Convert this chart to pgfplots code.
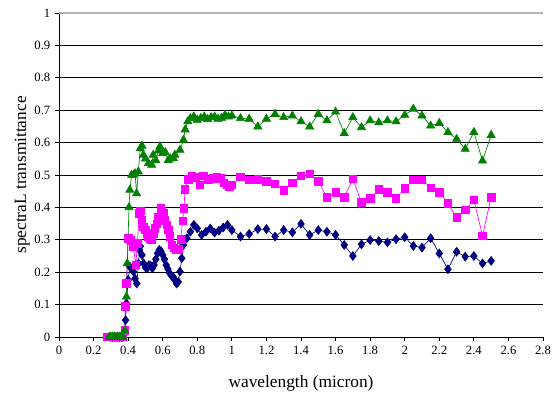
\documentclass[border=0pt]{standalone}
\usepackage{pgfplots}
\pgfplotsset{compat=1.18}
\usepackage{fontspec}
\setmainfont{Liberation Serif}
\definecolor{navy}{RGB}{0,0,128}
\definecolor{mag}{RGB}{255,0,255}
\definecolor{grn}{RGB}{0,128,0}
\begin{document}
\begin{tikzpicture}
\begin{axis}[
  name=ax,
  scale only axis, width=363pt, height=243pt,
  xmin=0, xmax=2.8, ymin=0, ymax=1,
  xtick={0,0.2,...,2.8}, ytick={0,0.1,...,1},
  xticklabels={0,0.2,0.4,0.6,0.8,1,1.2,1.4,1.6,1.8,2,2.2,2.4,2.6,2.8},
  yticklabels={0,0.1,0.2,0.3,0.4,0.5,0.6,0.7,0.8,0.9,1},
  axis x line*=bottom, axis y line*=left,
  axis line style={black, line width=0.6pt},
  tick align=outside, major tick length=3pt,
  tick style={black, line width=0.6pt},
  ymajorgrids, major grid style={black, line width=0.5pt},
  tick label style={font=\fontsize{9.5}{11}\selectfont},
  /pgf/number format/assume math mode=true,
  xlabel={wavelength (micron)}, ylabel={spectraL transmittance},
  label style={font=\fontsize{13}{15}\selectfont},
  xlabel style={at={(axis description cs:0.5,-0.142)}, anchor=center},
  ylabel style={at={(axis description cs:-0.0758,0.5)}, anchor=center},
  clip=false,
]
\draw[gray!60, line width=0.8pt] (axis cs:0,1) -- (axis cs:2.8,1);
% navy diamonds
\addplot[navy, line width=0.5pt, mark=diamond*, mark size=3.3pt, mark options={solid, fill=navy, draw=navy}] coordinates {
(0.30,0)(0.31,0)(0.32,0)(0.33,0)(0.34,0)(0.35,0)(0.36,0)(0.37,0)(0.38,0.01)
(0.385,0.052)(0.39,0.104)(0.40,0.176)(0.41,0.217)(0.42,0.21)(0.43,0.202)(0.44,0.18)
(0.45,0.165)(0.46,0.227)(0.465,0.269)(0.47,0.28)(0.48,0.253)(0.49,0.227)(0.50,0.215)
(0.51,0.212)(0.52,0.222)(0.53,0.22)(0.54,0.212)(0.55,0.222)(0.56,0.24)(0.57,0.258)
(0.58,0.269)(0.59,0.265)(0.60,0.253)(0.61,0.24)(0.62,0.222)(0.63,0.21)(0.64,0.197)
(0.65,0.19)(0.66,0.186)(0.67,0.176)(0.68,0.165)(0.69,0.17)(0.70,0.202)(0.71,0.243)
(0.72,0.284)(0.74,0.305)(0.76,0.325)(0.78,0.346)(0.80,0.335)(0.825,0.315)(0.85,0.325)
(0.875,0.335)(0.90,0.322)(0.925,0.328)(0.95,0.338)(0.975,0.346)(1.00,0.330)
(1.05,0.310)(1.10,0.318)(1.15,0.333)(1.20,0.333)(1.25,0.310)(1.30,0.330)(1.35,0.323)
(1.40,0.349)(1.45,0.315)(1.50,0.330)(1.55,0.325)(1.60,0.315)(1.65,0.284)(1.70,0.250)
(1.75,0.286)(1.80,0.299)(1.85,0.296)(1.90,0.292)(1.95,0.302)(2.00,0.308)(2.05,0.281)
(2.10,0.276)(2.15,0.305)(2.20,0.258)(2.25,0.209)(2.30,0.263)(2.35,0.248)(2.40,0.250)
(2.45,0.227)(2.50,0.235)
};
% magenta squares
\addplot[mag, line width=0.5pt, mark=square*, mark size=2.8pt, mark options={solid, fill=mag, draw=mag}] coordinates {
(0.28,0)(0.30,0)(0.31,0)(0.32,0)(0.33,0)(0.34,0)(0.35,0)(0.36,0)(0.37,0)(0.38,0.02)
(0.385,0.094)(0.39,0.165)(0.40,0.305)(0.41,0.30)(0.415,0.299)(0.43,0.279)(0.445,0.222)
(0.453,0.289)(0.465,0.382)(0.47,0.39)(0.478,0.361)(0.488,0.340)(0.50,0.33)(0.507,0.320)
(0.515,0.31)(0.526,0.305)(0.535,0.30)(0.545,0.320)(0.555,0.336)(0.565,0.35)(0.574,0.371)
(0.588,0.397)(0.595,0.39)(0.603,0.382)(0.613,0.36)(0.623,0.346)(0.633,0.33)(0.642,0.310)
(0.652,0.284)(0.665,0.275)(0.677,0.269)(0.69,0.27)(0.704,0.302)(0.715,0.358)(0.723,0.397)
(0.729,0.456)(0.748,0.487)(0.767,0.497)(0.792,0.493)(0.815,0.469)(0.835,0.497)(0.864,0.485)
(0.889,0.489)(0.912,0.493)(0.935,0.489)(0.954,0.476)(0.97,0.47)(0.985,0.464)(1.00,0.47)
(1.05,0.495)(1.10,0.485)(1.15,0.487)(1.20,0.481)(1.25,0.472)(1.30,0.452)(1.35,0.476)
(1.40,0.497)(1.45,0.503)(1.50,0.480)(1.55,0.431)(1.60,0.447)(1.65,0.431)(1.70,0.488)
(1.75,0.415)(1.80,0.428)(1.85,0.456)(1.90,0.447)(1.95,0.428)(2.00,0.459)(2.05,0.485)
(2.10,0.485)(2.15,0.461)(2.20,0.446)(2.25,0.412)(2.30,0.369)(2.35,0.392)(2.40,0.423)
(2.45,0.313)(2.50,0.431)
};
% green triangles
\addplot[grn, line width=0.5pt, mark=triangle*, mark size=3.5pt, mark options={solid, fill=grn, draw=grn}] coordinates {
(0.29,0)(0.30,0)(0.31,0)(0.32,0)(0.33,0)(0.34,0)(0.35,0)(0.36,0)(0.37,0)(0.38,0.02)
(0.39,0.124)(0.395,0.227)(0.405,0.40)(0.41,0.454)(0.42,0.500)(0.43,0.50)(0.44,0.505)
(0.449,0.443)(0.459,0.510)(0.47,0.582)(0.48,0.59)(0.488,0.562)(0.50,0.55)(0.517,0.536)
(0.536,0.531)(0.545,0.562)(0.56,0.545)(0.575,0.575)(0.584,0.588)(0.60,0.567)(0.615,0.57)
(0.632,0.546)(0.645,0.55)(0.661,0.552)(0.67,0.562)(0.70,0.577)(0.72,0.608)(0.73,0.64)
(0.745,0.665)(0.76,0.675)(0.78,0.68)(0.80,0.67)(0.82,0.675)(0.84,0.68)(0.86,0.672)
(0.88,0.678)(0.90,0.68)(0.92,0.673)(0.94,0.676)(0.96,0.685)(0.98,0.68)(1.00,0.683)
(1.05,0.675)(1.10,0.673)(1.15,0.649)(1.20,0.673)(1.25,0.688)(1.30,0.678)(1.35,0.683)
(1.40,0.665)(1.45,0.649)(1.50,0.688)(1.55,0.668)(1.60,0.695)(1.65,0.629)(1.70,0.678)
(1.75,0.647)(1.80,0.668)(1.85,0.662)(1.90,0.668)(1.95,0.665)(2.00,0.685)(2.05,0.704)
(2.10,0.683)(2.15,0.652)(2.20,0.660)(2.25,0.632)(2.30,0.611)(2.35,0.58)(2.40,0.632)
(2.45,0.544)(2.50,0.623)
};
\end{axis}
\pgfresetboundingbox
\path ([xshift=-44.25pt,yshift=-46.5pt]ax.south west) rectangle ([xshift=9pt,yshift=9.75pt]ax.north east);
\end{tikzpicture}
\end{document}
